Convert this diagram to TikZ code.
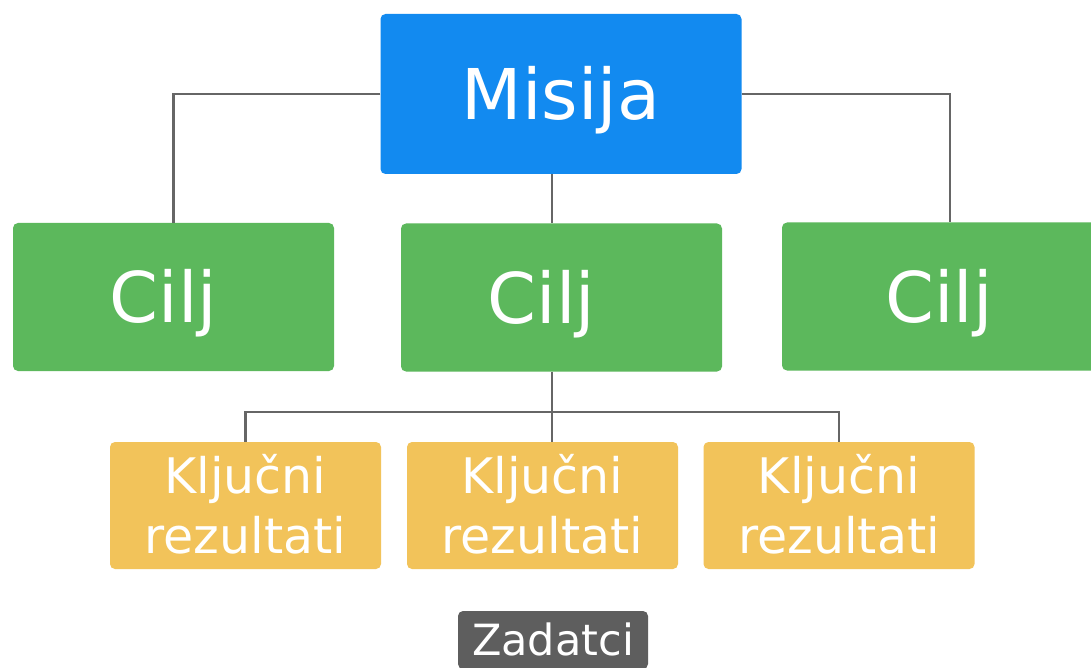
\documentclass[tikz,border=0pt]{standalone}
\usepackage{fontspec}
\setmainfont{DejaVu Sans}
\definecolor{misijablue}{HTML}{128AF0}
\definecolor{ciljgreen}{HTML}{5CB85C}
\definecolor{krgold}{HTML}{F2C35A}
\definecolor{zadgray}{HTML}{5E5E5E}
\definecolor{linkgray}{HTML}{666666}
\begin{document}
\begin{tikzpicture}[x=1pt, y=-1pt,
  box/.style={rounded corners=5pt, text=white, inner sep=0pt, text depth=0pt},
  misija/.style={box, fill=misijablue, minimum width=361pt, minimum height=160pt,
    font=\fontsize{70}{80}\selectfont, text height=51pt},
  cilj/.style={box, fill=ciljgreen, minimum width=321pt, minimum height=148pt,
    font=\fontsize{70}{80}\selectfont, text height=51pt},
  kljucni/.style={box, fill=krgold, minimum width=271pt, minimum height=127pt,
    font=\fontsize{49}{60}\selectfont, align=center, text height=95.5pt},
  zadatak/.style={box, fill=zadgray, minimum width=190pt, minimum height=58pt,
    font=\fontsize{43}{50}\selectfont, text height=31.4pt},
  link/.style={draw=linkgray, line width=2.2pt}]
\clip (0,0) rectangle (1091,668);
\fill[white] (0,0) rectangle (1091,668);
% boxes
\node[misija] (misija) at (561,94) {Misija};
\node[cilj] (cilj1) at (173.5,297) {\hspace*{-20pt}Cilj};
\node[cilj] (cilj2) at (561.5,297.5) {\hspace*{-40pt}Cilj};
\node[cilj, minimum width=336pt] (cilj3) at (950,296.5) {\hspace*{-22pt}Cilj};
\node[kljucni] (kr1) at (245.5,505.5) {Ključni\\rezultati};
\node[kljucni] (kr2) at (542.5,505.5) {Ključni\\rezultati};
\node[kljucni] (kr3) at (839,505.5) {Ključni\\rezultati};
\node[zadatak] (zadatci) at (553,640) {Zadatci};
% connectors
\coordinate (stem) at (552,0);
\coordinate (bus) at (0,412);
\draw[link] (misija.west) -| (cilj1.north);
\draw[link] (misija.east) -| (cilj3.north);
\draw[link] (misija.south -| stem) -- (cilj2.north -| stem);
\draw[link] (cilj2.south -| stem) -- (kr2.north -| stem);
\draw[link] (kr1.north) |- (bus -| kr3.north) -- (kr3.north);
\end{tikzpicture}
\end{document}
